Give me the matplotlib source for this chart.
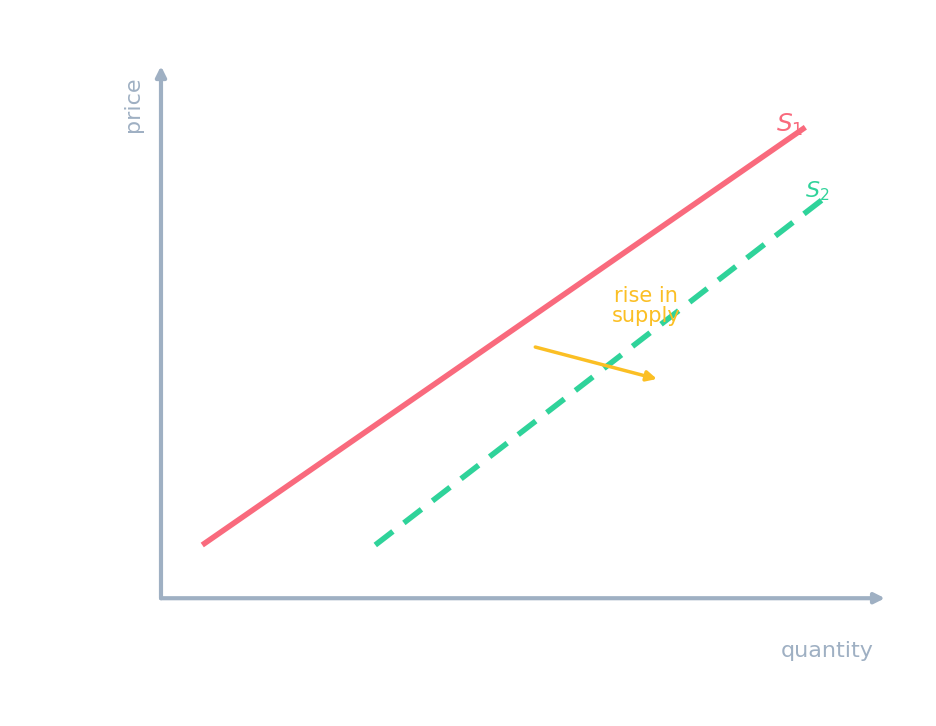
import matplotlib.pyplot as plt

s1_x = [0.57, 8.9]
s1_y = [1.0, 8.85]
s2_x = [2.96, 9.24]
s2_y = [1.0, 7.6]
shift_from = (5.17, 4.72)
shift_to = (6.85, 4.12)

axis_col = '#9fb0c3'
red = '#f96a7d'
green = '#2fd39a'
orange = '#fbbf24'

fig = plt.figure(figsize=(9.36, 7.26), dpi=100)
ax = fig.add_axes([0.172, 0.176, 0.7735, 0.733])
ax.set_xlim(0, 10)
ax.set_ylim(0, 10)
ax.axis('off')

# axes arrows
ax.annotate('', xy=(10, 0), xytext=(0, 0), annotation_clip=False,
            arrowprops=dict(arrowstyle='-|>', color=axis_col, lw=3, mutation_scale=15, shrinkA=0, shrinkB=0))
ax.annotate('', xy=(0, 10), xytext=(0, 0), annotation_clip=False,
            arrowprops=dict(arrowstyle='-|>', color=axis_col, lw=3, mutation_scale=15, shrinkA=0, shrinkB=0))

ax.plot(s1_x, s1_y, color=red, lw=4, solid_capstyle='butt')
ax.plot(s2_x, s2_y, color=green, lw=4, ls=(0, (4, 2.5)))

ax.annotate('', xy=shift_to, xytext=shift_from,
            arrowprops=dict(arrowstyle='-|>', color=orange, lw=2.5, mutation_scale=15, shrinkA=0, shrinkB=0))
ax.text(6.7, 5.5, 'rise in\nsupply', color=orange, fontsize=15, ha='center', va='center', linespacing=1.0)

ax.text(8.69, 8.89, '$S_1$', color=red, fontsize=18, ha='center', va='center')
ax.text(9.07, 7.65, '$S_2$', color=green, fontsize=16, ha='center', va='center')
ax.text(-0.39, 9.29, 'price', color=axis_col, fontsize=16, rotation=90, ha='center', va='center', clip_on=False)
ax.text(9.2, -1.0, 'quantity', color=axis_col, fontsize=16, ha='center', va='center', clip_on=False)

fig.savefig('out.png')
